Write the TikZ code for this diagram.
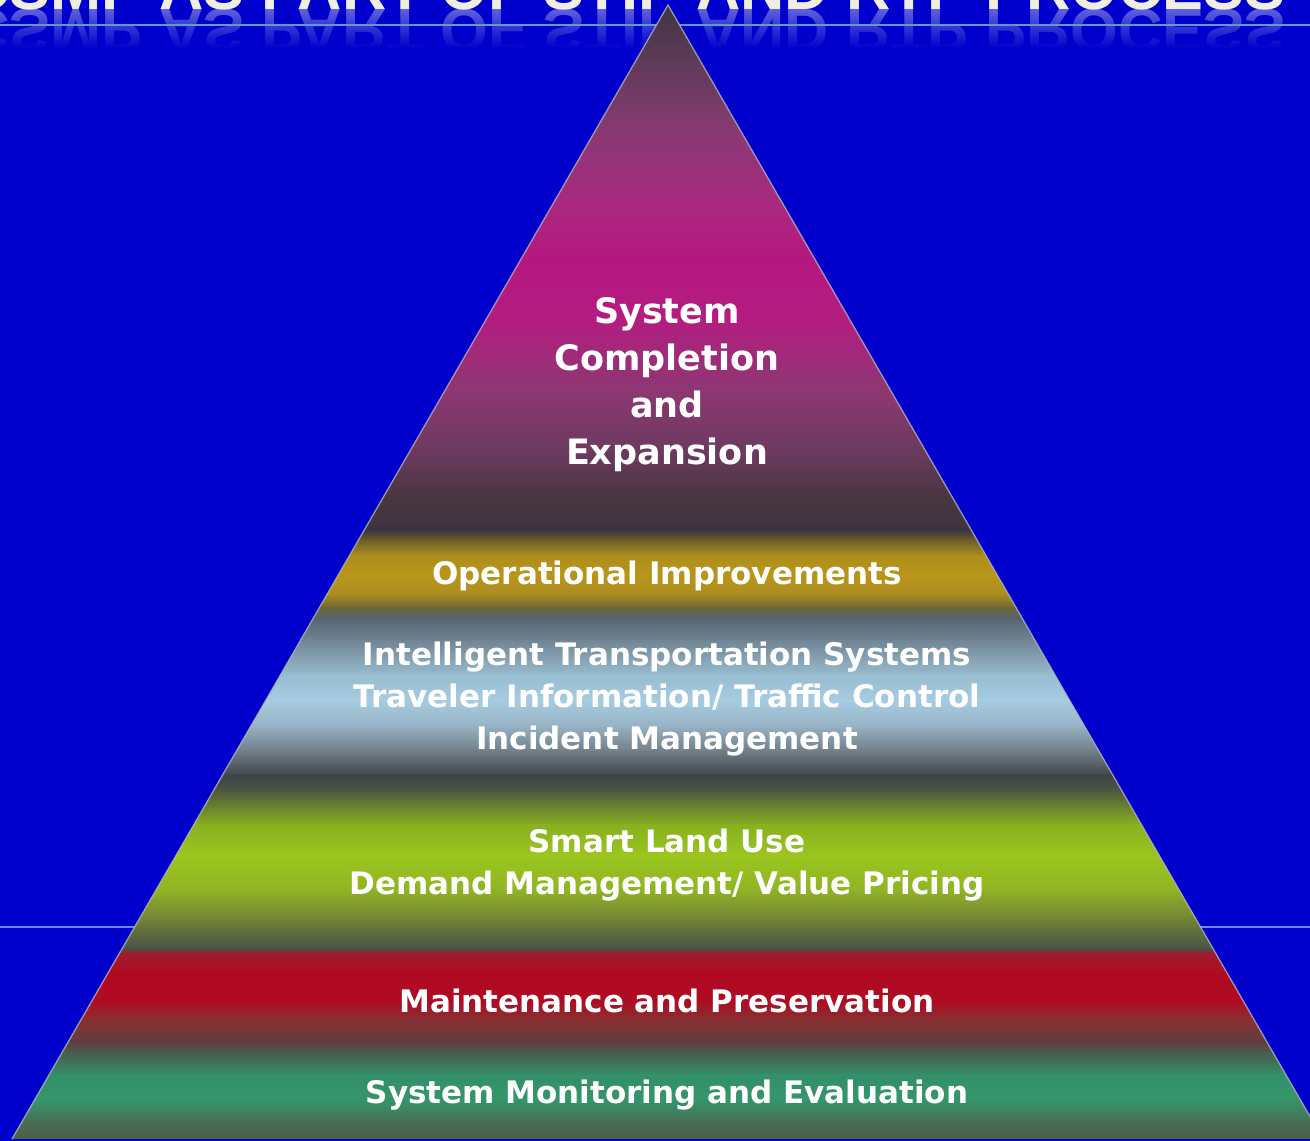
\documentclass[tikz,border=0pt]{standalone}
\usepackage{fontspec}
\setmainfont{DejaVu Sans}
\newfontfamily\titlefnt{Liberation Sans}
\usetikzlibrary{fadings}
\definecolor{bgblue}{HTML}{0000CC}
\definecolor{titlecol}{HTML}{EEEEE2}
\definecolor{rulecol}{HTML}{5A9BD2}
\definecolor{rule2col}{HTML}{6A8AE8}
\definecolor{edgecol}{HTML}{B4B4BC}
% gradient stops (named by y position)
\definecolor{g0}{HTML}{3B3541}
\definecolor{g60}{HTML}{5E3A58}
\definecolor{g120}{HTML}{823B70}
\definecolor{g200}{HTML}{A82A80}
\definecolor{g260}{HTML}{B5177F}
\definecolor{g320}{HTML}{B31D80}
\definecolor{g390}{HTML}{8E3773}
\definecolor{g450}{HTML}{6C3A60}
\definecolor{g500}{HTML}{47363F}
\definecolor{g530}{HTML}{3D3440}
\definecolor{g540}{HTML}{6A5E28}
\definecolor{g556}{HTML}{AE8F1C}
\definecolor{g575}{HTML}{B9951A}
\definecolor{g594}{HTML}{AC8D20}
\definecolor{g608}{HTML}{6C6636}
\definecolor{g618}{HTML}{566470}
\definecolor{g640}{HTML}{708494}
\definecolor{g675}{HTML}{98BCD0}
\definecolor{g700}{HTML}{A6CCE2}
\definecolor{g725}{HTML}{98B4C6}
\definecolor{g752}{HTML}{6F7C86}
\definecolor{g776}{HTML}{3F4448}
\definecolor{g790}{HTML}{4C5640}
\definecolor{g825}{HTML}{88B020}
\definecolor{g855}{HTML}{9AC61E}
\definecolor{g890}{HTML}{90B424}
\definecolor{g922}{HTML}{6E7E38}
\definecolor{g948}{HTML}{4A5448}
\definecolor{g954}{HTML}{A01A2C}
\definecolor{g975}{HTML}{B00A22}
\definecolor{g1000}{HTML}{B00B22}
\definecolor{g1020}{HTML}{883032}
\definecolor{g1042}{HTML}{5E3E40}
\definecolor{g1052}{HTML}{4C5A4C}
\definecolor{g1075}{HTML}{33906A}
\definecolor{g1100}{HTML}{35956A}
\definecolor{g1125}{HTML}{4A6A52}
\definecolor{g1145}{HTML}{4C5A48}
\begin{document}
\begin{tikzpicture}[x=1pt,y=-1pt,
  lbl/.style={text=white, font=\bfseries\fontsize{31}{42}\selectfont, align=center, inner sep=0pt},
  toplbl/.style={text=white, font=\bfseries\fontsize{35}{47}\selectfont, align=center, inner sep=0pt},
  titletext/.style={font=\titlefnt\bfseries\fontsize{61.3}{70}\selectfont, inner sep=0pt, anchor=base west}]
\useasboundingbox (0,0) rectangle (1310,1141);
\clip (0,0) rectangle (1310,1141);
\fill[bgblue] (0,0) rectangle (1310,1141);
% cut-off title and its reflection
\node[titletext, text=titlecol] (title) at (-35,9) {CSMP AS PART OF STIP AND RTP PROCESS};
\node[titletext, text=white, opacity=0.38, yscale=-1] (titlerefl) at (-35,9) {CSMP AS PART OF STIP AND RTP PROCESS};
\fill[bgblue, path fading=north] (0,9) rectangle (1310,48);
\fill[bgblue] (0,48) rectangle (1310,80);
% horizontal rules
\draw[rulecol, line width=2.2pt] (0,25) -- (1310,25);
\draw[rule2col, line width=1.2pt] (0,927) -- (1310,927);
% pyramid
\coordinate (apex) at (668,5);
\coordinate (bl) at (12,1139);
\coordinate (br) at (1323,1139);
\begin{scope}
\clip (apex) -- (bl) -- (br) -- cycle;
\foreach \ya/\yb in {0/60,60/120,120/200,200/260,260/320,320/390,390/450,450/500,500/530,530/540,540/556,556/575,575/594,594/608,608/618,618/640,640/675,675/700,700/725,725/752,752/776,776/790,790/825,825/855,855/890,890/922,922/948,948/954,954/975,975/1000,1000/1020,1020/1042,1042/1052,1052/1075,1075/1100,1100/1125,1125/1145}{
  \shade[top color=g\ya, bottom color=g\yb] (0,\ya-0.5) rectangle (1330,\yb+0.5);
}
\end{scope}
\draw[edgecol, line width=1.3pt, opacity=0.8, line join=miter] (bl) -- (apex) -- (br);
% labels
\node[toplbl] (sce) at (667,385) {System\\Completion\\and\\Expansion};
\node[lbl] (oi) at (667,576) {Operational Improvements};
\node[lbl] (its) at (667,699) {Intelligent Transportation Systems\\Traveler Information/ Traffic Control\\Incident Management};
\node[lbl] (slu) at (667,865) {Smart Land Use\\Demand Management/ Value Pricing};
\node[lbl] (mp) at (667,1001) {Maintenance and Preservation};
\node[lbl] (sme) at (667,1095) {System Monitoring and Evaluation};
\end{tikzpicture}
\end{document}
